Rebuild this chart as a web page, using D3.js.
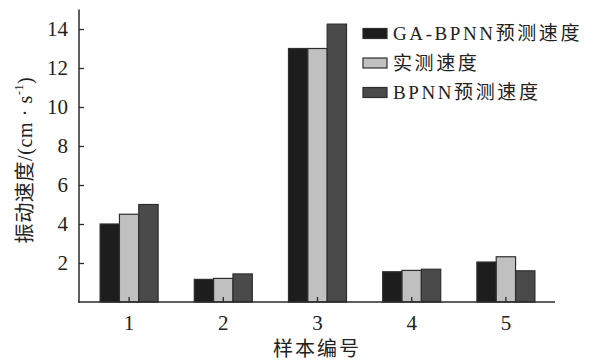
<!DOCTYPE html>
<html><head><meta charset="utf-8">
<script src="https://cdn.jsdelivr.net/npm/d3@7"></script>
<style>
body{margin:0;background:#fff;}
svg{display:block;font-family:"Liberation Serif","Noto Sans CJK SC",serif;}
</style></head>
<body><svg id="c" width="595" height="363"></svg>
<script>
const categories = ["1","2","3","4","5"];
const seriesNames = ["GA-BPNN预测速度","实测速度","BPNN预测速度"];
const gaBpnn = [4.0, 1.16, 13.0, 1.55, 2.05];
const measured = [4.5, 1.21, 13.0, 1.62, 2.32];
const bpnn = [5.0, 1.44, 14.25, 1.68, 1.6];
const yTicks = [2,4,6,8,10,12,14];
const colors = ["#1d1d1d","#c0c0c0","#4a4a4a"];

const seriesValues = [gaBpnn, measured, bpnn];
const svg = d3.select("#c");
const x = d3.scaleBand().domain(categories).range([82,553]).paddingInner(0.384).paddingOuter(0.192);
const xs = d3.scaleBand().domain(seriesNames).range([0, x.bandwidth()]);
const y = d3.scaleLinear().domain([0,15]).range([302,9.5]);
const axisColor = "#2a2a2a";

// bars
const g = svg.append("g");
categories.forEach((c,i)=>{
  seriesNames.forEach((s,j)=>{
    const v = seriesValues[j][i];
    g.append("rect")
      .attr("x", x(c)+xs(s))
      .attr("y", y(v))
      .attr("width", xs.bandwidth())
      .attr("height", y(0)-y(v))
      .attr("fill", colors[j])
      .attr("stroke", "#2e2e2e")
      .attr("stroke-width", 1.2);
  });
});

// y axis
const ya = svg.append("g").attr("transform","translate(79,0)")
  .call(d3.axisLeft(y).tickValues(yTicks).tickSizeInner(-5).tickSizeOuter(0).tickPadding(11));
ya.select(".domain").remove();
ya.selectAll("line").attr("stroke",axisColor).attr("stroke-width",1.3);
ya.selectAll("text").attr("font-size",21).attr("fill","#222").attr("font-family","Liberation Serif");

// x axis
const xa = svg.append("g").attr("transform","translate(0,302)")
  .call(d3.axisBottom(x).tickSizeInner(-5).tickSizeOuter(0).tickPadding(13));
xa.select(".domain").remove();
xa.selectAll("line").attr("stroke",axisColor).attr("stroke-width",1.3);
xa.selectAll("text").attr("font-size",21).attr("fill","#222").attr("font-family","Liberation Serif");

// axis lines
svg.append("line").attr("x1",79).attr("x2",79).attr("y1",y(0)+0.5).attr("y2",y(15))
  .attr("stroke",axisColor).attr("stroke-width",1.5);
svg.append("line").attr("x1",78).attr("x2",555).attr("y1",y(0)).attr("y2",y(0))
  .attr("stroke",axisColor).attr("stroke-width",1.5);

// axis titles
svg.append("text").attr("x",317).attr("y",356).attr("text-anchor","middle")
  .attr("font-size",20).attr("fill","#222").attr("font-family","Noto Sans CJK SC")
  .attr("letter-spacing",2).text("样本编号");
const yt = svg.append("text").attr("transform","translate(32,160) rotate(-90)")
  .attr("text-anchor","middle").attr("font-size",20).attr("fill","#222").attr("letter-spacing",0.6);
yt.append("tspan").attr("font-family","Noto Sans CJK SC").text("振动速度");
yt.append("tspan").text("/(cm · s");
yt.append("tspan").attr("font-size",12).attr("dy",-9).text("-1");
yt.append("tspan").attr("dy",9).text(")");

// legend
const lg = svg.append("g");
seriesNames.forEach((s,j)=>{
  const cy = 33.5 + j*29.5;
  lg.append("rect").attr("x",363).attr("y",cy-5).attr("width",24).attr("height",10)
    .attr("fill",colors[j]).attr("stroke","#2e2e2e").attr("stroke-width",1.2);
  lg.append("text").attr("x",393).attr("y",cy+6.5).attr("font-size",19).attr("fill","#222")
    .attr("letter-spacing",2.6).text(s);
});
</script></body></html>
